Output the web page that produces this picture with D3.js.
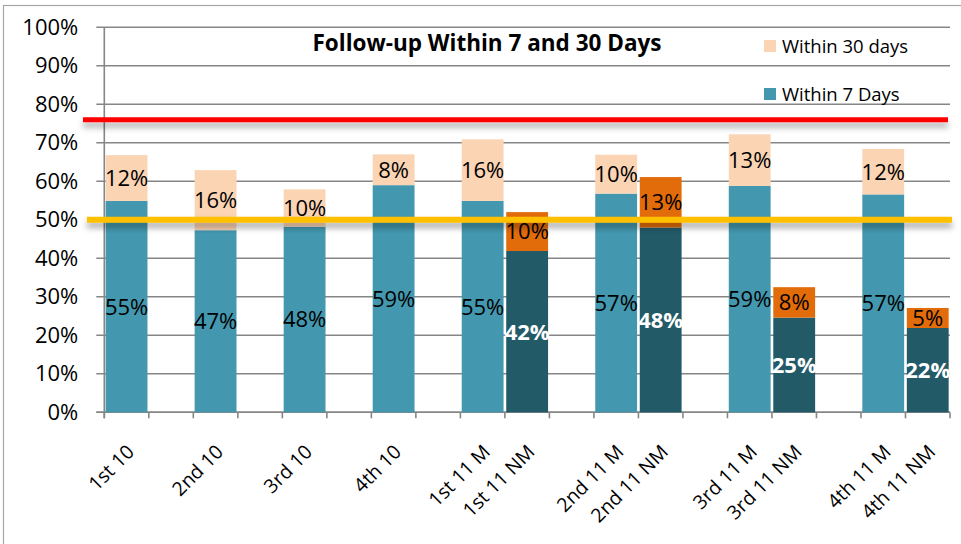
<!DOCTYPE html>
<html>
<head>
<meta charset="utf-8">
<script src="https://cdn.jsdelivr.net/npm/d3@7"></script>
<style>
  html, body { margin: 0; padding: 0; background: #fff; }
  svg { display: block; font-family: "Open Sans", "Liberation Sans", sans-serif; }
</style>
</head>
<body>
<svg id="chart" width="961" height="544"></svg>
<script>
// ---- data ----
const title = "Follow-up Within 7 and 30 Days";
const categories = ["1st 10", "", "2nd 10", "", "3rd 10", "", "4th 10", "",
  "1st 11 M", "1st 11 NM", "", "2nd 11 M", "2nd 11 NM", "",
  "3rd 11 M", "3rd 11 NM", "", "4th 11 M", "4th 11 NM"];
const within7 = [0.549, null, 0.473, null, 0.482, null, 0.59, null,
  0.549, 0.419, null, 0.568, 0.48, null, 0.588, 0.246, null, 0.566, 0.219];
const within30Extra = [0.119, null, 0.156, null, 0.097, null, 0.08, null,
  0.16, 0.101, null, 0.101, 0.131, null, 0.134, 0.079, null, 0.118, 0.052];
const seriesNames = ["Within 30 days", "Within 7 Days"];
const yTicks = [0, 0.1, 0.2, 0.3, 0.4, 0.5, 0.6, 0.7, 0.8, 0.9, 1.0];
const targetHigh = 0.76;
const targetLow = 0.50;

// ---- styles ----
const C7 = "#4398AF", C30 = "#FBD4B4", C7NM = "#225A68", C30NM = "#E36C0A";
const isNM = c => /NM$/.test(c);

const svg = d3.select("#chart");
const W = 961, H = 544;
const plotL = 104.3, plotR = 950, plotT = 27.3, plotB = 412.3;

svg.append("rect").attr("width", W).attr("height", H).attr("fill", "#fff");
svg.append("rect").attr("x", 3.5).attr("y", 5.5).attr("width", W).attr("height", H)
  .attr("fill", "none").attr("stroke", "#a6a6a6").attr("stroke-width", 1.2);

const defs = svg.append("defs");
const f = defs.append("filter").attr("id", "sh").attr("filterUnits", "userSpaceOnUse")
  .attr("x", 0).attr("y", 0).attr("width", W).attr("height", H);
f.append("feDropShadow").attr("dx", 0).attr("dy", 5).attr("stdDeviation", 3)
  .attr("flood-color", "#000").attr("flood-opacity", 0.35);

const x = d3.scaleBand().domain(d3.range(categories.length))
  .range([plotL, plotR]).paddingInner(0.06).paddingOuter(0.03);
const y = d3.scaleLinear().domain([0, 1]).range([plotB, plotT]);

// gridlines
svg.append("g").selectAll("line").data(yTicks).join("line")
  .attr("x1", plotL - 8).attr("x2", plotR)
  .attr("y1", d => y(d)).attr("y2", d => y(d))
  .attr("stroke", "#868686").attr("stroke-width", 1.6);

// y axis
const yAxis = svg.append("g").attr("transform", `translate(${plotL},0)`)
  .call(d3.axisLeft(y).tickValues(yTicks).tickFormat(d3.format(".0%"))
    .tickSize(0).tickPadding(26));
yAxis.select(".domain").remove();
yAxis.selectAll("text").attr("font-size", 22).attr("fill", "#000")
  .attr("font-family", "'Open Sans', sans-serif");
svg.append("line").attr("x1", plotL).attr("x2", plotL).attr("y1", plotT).attr("y2", plotB + 6)
  .attr("stroke", "#868686").attr("stroke-width", 1.6);

// x axis
svg.append("line").attr("x1", plotL - 8).attr("x2", plotR).attr("y1", plotB).attr("y2", plotB)
  .attr("stroke", "#868686").attr("stroke-width", 1.6);
const gap = (x.step() - x.bandwidth()) / 2;
const boundaries = d3.range(categories.length + 1).map(i =>
  i < categories.length ? x(i) - gap : x(i - 1) + x.bandwidth() + gap);
svg.append("g").selectAll("line").data(boundaries).join("line")
  .attr("x1", d => d).attr("x2", d => d).attr("y1", plotB).attr("y2", plotB + 6)
  .attr("stroke", "#868686").attr("stroke-width", 1.6);

// bars
const rows = categories.map((c, i) => ({ c, i, a: within7[i], b: within30Extra[i] }))
  .filter(d => d.a != null);
const gBars = svg.append("g");
gBars.selectAll(".b7").data(rows).join("rect")
  .attr("x", d => x(d.i)).attr("width", x.bandwidth())
  .attr("y", d => y(d.a)).attr("height", d => y(0) - y(d.a))
  .attr("fill", d => isNM(d.c) ? C7NM : C7);
gBars.selectAll(".b30").data(rows).join("rect")
  .attr("x", d => x(d.i)).attr("width", x.bandwidth())
  .attr("y", d => y(d.a + d.b)).attr("height", d => y(d.a) - y(d.a + d.b))
  .attr("fill", d => isNM(d.c) ? C30NM : C30);

// labels
const fmt = d3.format(".0%");
const gLab = svg.append("g").attr("text-anchor", "middle").attr("font-size", 22);
gLab.selectAll(".l7").data(rows).join("text")
  .attr("x", d => x(d.i) + x.bandwidth() / 2)
  .attr("y", d => (y(0) + y(d.a)) / 2).attr("dy", "0.36em")
  .attr("fill", d => isNM(d.c) ? "#fff" : "#000")
  .attr("font-weight", d => isNM(d.c) ? "bold" : "normal")
  .text(d => fmt(d.a));
gLab.selectAll(".l30").data(rows).join("text")
  .attr("x", d => x(d.i) + x.bandwidth() / 2)
  .attr("y", d => (y(d.a) + y(d.a + d.b)) / 2).attr("dy", "0.36em")
  .attr("fill", "#000")
  .text(d => fmt(d.b));

// category labels
svg.append("g").selectAll("text").data(rows).join("text")
  .attr("transform", d => `translate(${x(d.i) + x.bandwidth() / 2 + 4},${plotB + 36}) rotate(-45)`)
  .attr("text-anchor", "end").attr("dy", "0.35em")
  .attr("font-size", 19.5).attr("fill", "#000")
  .text(d => d.c);

// target lines
svg.append("line").attr("x1", 83).attr("x2", 948)
  .attr("y1", y(targetHigh)).attr("y2", y(targetHigh))
  .attr("stroke", "#FF0000").attr("stroke-width", 5).attr("filter", "url(#sh)");
svg.append("line").attr("x1", 87).attr("x2", 952)
  .attr("y1", y(targetLow)).attr("y2", y(targetLow))
  .attr("stroke", "#FFC000").attr("stroke-width", 6).attr("filter", "url(#sh)");

// title
svg.append("text").attr("x", 487).attr("y", 51).attr("text-anchor", "middle")
  .attr("font-size", 22.5).attr("font-weight", "bold").attr("fill", "#000")
  .text(title);

// legend
const legend = svg.append("g");
const legColors = [C30, C7];
const legY = [46, 94];
seriesNames.forEach((n, k) => {
  legend.append("rect").attr("x", 764).attr("y", legY[k] - 6).attr("width", 12).attr("height", 12)
    .attr("fill", legColors[k]);
  legend.append("text").attr("x", 782).attr("y", legY[k]).attr("dy", "0.36em")
    .attr("font-size", 18.5).attr("fill", "#000").text(n);
});
</script>
</body>
</html>
